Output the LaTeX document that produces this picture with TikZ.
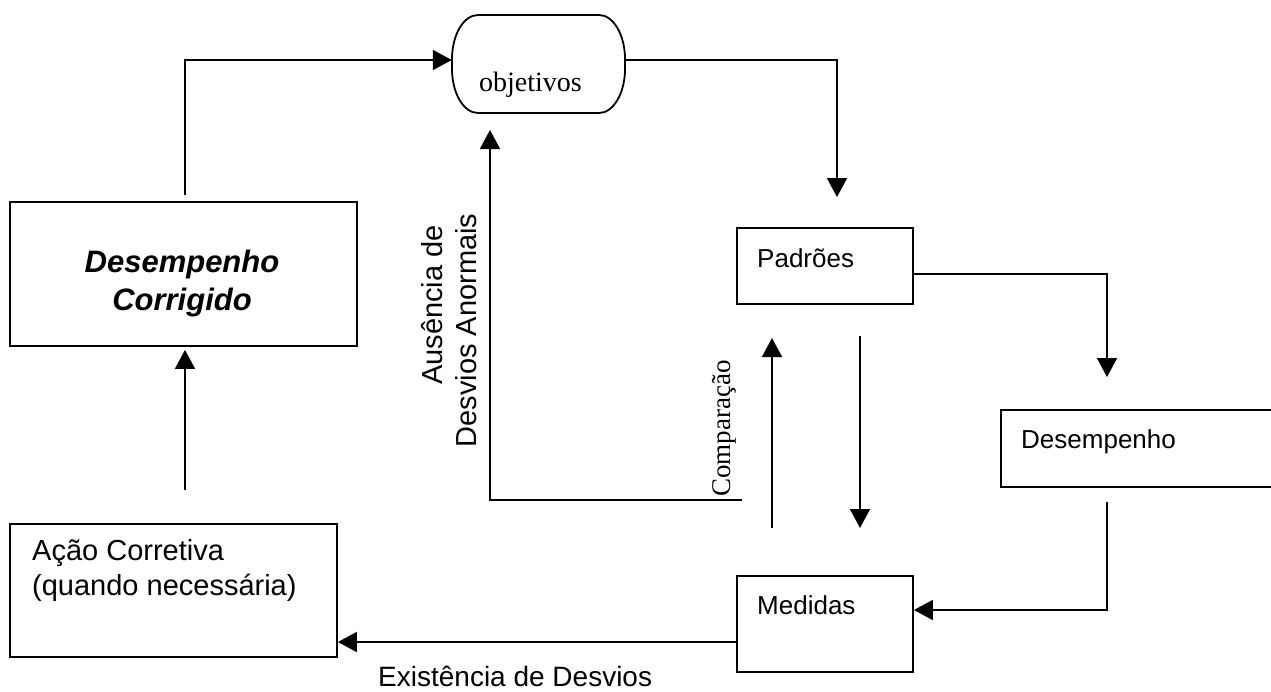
\documentclass[tikz,border=0pt]{standalone}
\usepackage{fontspec}
\setmainfont{Liberation Serif}
\setsansfont{Liberation Sans}
\usetikzlibrary{arrows.meta,calc}
\begin{document}
\begin{tikzpicture}[x=1pt,y=-1pt,
  box/.style={draw, line width=1.8pt, rectangle, inner sep=0pt},
  conn/.style={line width=1.8pt},
  arr/.style={conn, -{Triangle[length=19pt,width=20pt]}},
  txt/.style={inner sep=0pt, anchor=base west},
  sans/.style={font=\sffamily\fontsize{#1}{#1}\selectfont},
  serif/.style={font=\rmfamily\fontsize{#1}{#1}\selectfont},
]
\useasboundingbox (0,0) rectangle (1271,691);

% boxes
\node[box, minimum width=347pt, minimum height=144pt] (dc)  at (183.5,274) {};
\node[box, minimum width=327pt, minimum height=133pt] (ac)  at (173.5,590.5) {};
\node[box, minimum width=176pt, minimum height=76pt]  (pad) at (825,266) {};
\node[box, minimum width=279pt, minimum height=77pt]  (des) at (1140.5,448.5) {};
\node[box, minimum width=176pt, minimum height=96pt]  (med) at (825,624) {};

% objetivos: terminal with elliptic ends
\node[inner sep=0pt, minimum width=173pt, minimum height=98pt] (obj) at (538.5,64) {};
\draw[conn] (478,15) -- (599,15)
  .. controls (613.4,15) and (625,34.9) .. (625,59) -- (625,69)
  .. controls (625,93.1) and (613.4,113) .. (599,113) -- (478,113)
  .. controls (463.6,113) and (452,93.1) .. (452,69) -- (452,59)
  .. controls (452,34.9) and (463.6,15) .. (478,15) -- cycle;

% texts
\node[txt, serif=28] (tobj) at (479,91) {objetivos};
\node[txt, sans=26] (tpad) at (757,267) {Padrões};
\node[txt, sans=26] (tdes) at (1021,448) {Desempenho};
\node[txt, sans=26] (tmed) at (757,614) {Medidas};
\node[txt, sans=29] (tac1) at (32,560) {Ação Corretiva};
\node[txt, sans=29] (tac2) at (32,595) {(quando necessária)};
\node[txt, sans=28] (texi) at (378,686) {Existência de Desvios};
\node[inner sep=0pt, anchor=base, font=\sffamily\bfseries\itshape\fontsize{31}{31}\selectfont] (tdc1) at (182,272) {Desempenho};
\node[inner sep=0pt, anchor=base, font=\sffamily\bfseries\itshape\fontsize{31}{31}\selectfont] (tdc2) at (182,310) {Corrigido};
\node[inner sep=0pt, anchor=base, rotate=90, sans=29] (taus1) at (442,305) {Ausência de};
\node[inner sep=0pt, anchor=base, rotate=90, sans=29] (taus2) at (476,330.5) {Desvios Anormais};
\node[inner sep=0pt, anchor=base west, rotate=90, serif=27] (tcmp) at (730,497) {Comparação};

% free ends of connectors
\coordinate (acout) at (185,490);
\coordinate (dcout) at (185,195);
\coordinate (padin) at (837,197);
\coordinate (desin) at (1107,377);
\coordinate (desout) at (1107,502);
\coordinate (upA) at (772,528);
\coordinate (upB) at (772,338);
\coordinate (dnA) at (860,336);
\coordinate (dnB) at (860,528);
\coordinate (cmpout) at (742,500);
\coordinate (objin) at (490,130);

% connectors
\draw[arr, shorten >=3pt] (acout) -- (acout |- dc.south);
\draw[arr] (dcout) |- ([yshift=4pt]obj.west);
\draw[arr] ([yshift=4pt]obj.east) -| (padin);
\draw[arr] ([yshift=-8pt]pad.east) -| (desin);
\draw[arr] (desout) |- ([yshift=14pt]med.east);
\draw[arr] ([yshift=-18pt]med.west) -- ([yshift=-18pt]med.west -| ac.east);
\draw[arr] (upA) -- (upB);
\draw[arr] (dnA) -- (dnB);
\draw[arr] (cmpout) -| (objin);
\end{tikzpicture}
\end{document}
